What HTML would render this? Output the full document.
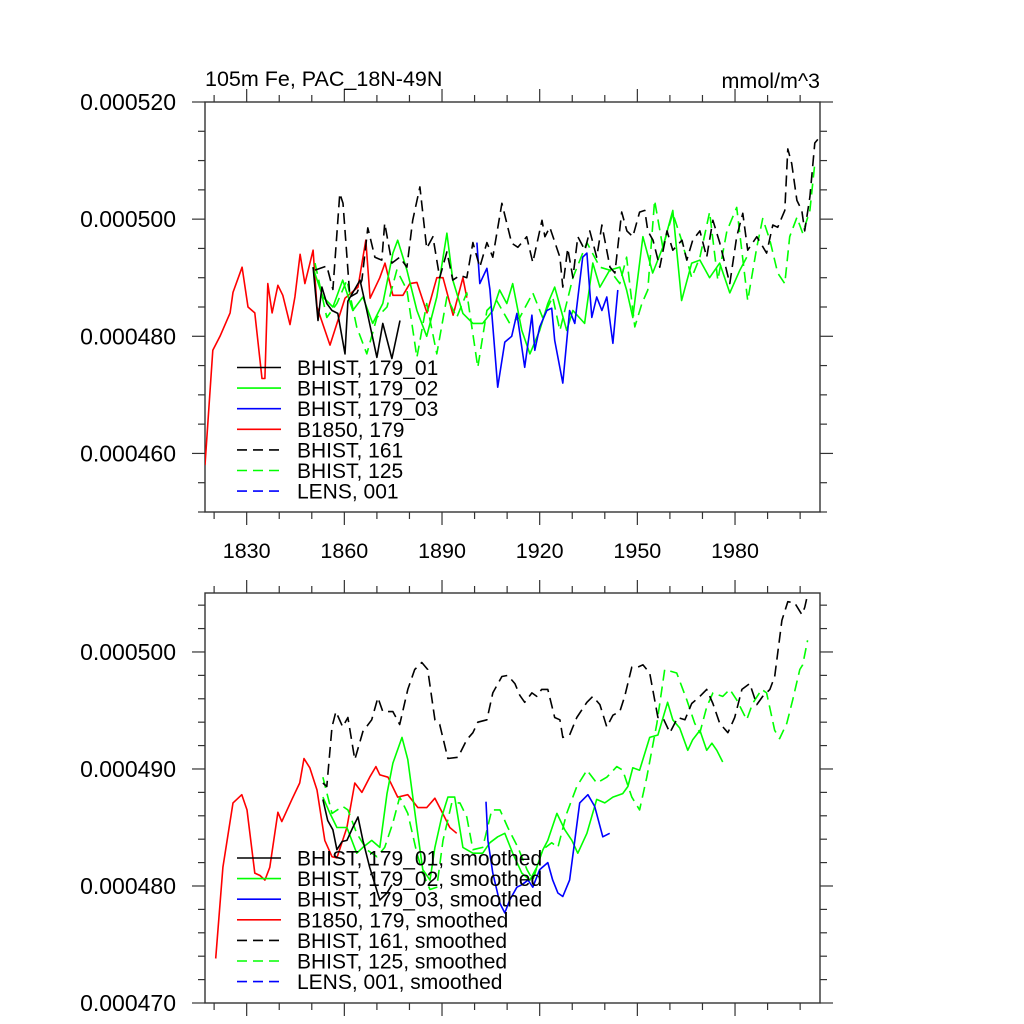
<!DOCTYPE html>
<html><head><meta charset="utf-8"><style>
html,body{margin:0;padding:0;background:#fff;}
svg{display:block;font-family:"Liberation Sans",sans-serif;}
</style></head><body>
<svg id="chart" width="1024" height="1024" viewBox="0 0 1024 1024">
<defs>
<clipPath id="clipTop"><rect x="205" y="102" width="615" height="410"/></clipPath>
<clipPath id="clipBot"><rect x="205" y="593" width="615" height="410"/></clipPath>
</defs>
<g id="root"></g>
</svg>
<script>
// ---- data (values in units of 1e-6 mmol/m^3) ----
const xTickYears = [1830, 1860, 1890, 1920, 1950, 1980];
const xTickLabels = ["1830", "1860", "1890", "1920", "1950", "1980"];
const topYTicks = [460, 480, 500, 520];
const topYLabels = ["0.000460", "0.000480", "0.000500", "0.000520"];
const botYTicks = [470, 480, 490, 500];
const botYLabels = ["0.000470", "0.000480", "0.000490", "0.000500"];

// top panel raw series
const redTopYears = [1817.2,1819.6,1821.8,1824.9,1825.8,1828.6,1830.4,1832.5,1834.7,1835.6,1836.5,1837.8,1839.6,1841.1,1843.3,1844.8,1846.4,1847.9,1850.4,1851.6,1855.6,1860.2,1864.2,1866.6,1867.9,1870.9,1872.5,1874.9,1878,1880.1,1882.3,1885.4,1888.4,1890.3,1893.4,1896.4,1897.6];
const redTopVals = [458,477.6,480,484,487.5,491.8,485,484,472.8,472.8,489,484,488.7,487,482,486.7,494,489,494.7,485,478.5,486.5,488.4,496.4,486.5,490,492.5,487,487,489,489.2,484,490,490,483.6,490,486.6];
const blackTopYears = [1850.4,1851.9,1853.1,1854.6,1856.2,1858,1860.2,1861.1,1864.8,1866.9,1870,1871.8,1874.6,1877.1];
const blackTopVals = [491.8,482.7,488.4,485.6,484.4,483.9,477,486,489.6,484.4,476.4,482.2,476.2,482.7];
const blackDashTopYears = [1851,1854.6,1856.5,1858.6,1859.6,1861.7,1863.9,1865.4,1867.2,1869.4,1871.5,1872.4,1874.6,1877,1879.2,1881,1883.2,1885.3,1887.2,1889.3,1891.5,1893.3,1895.5,1897.6,1899.5,1901.6,1903.8,1905.6,1908.4,1911.4,1913.3,1916,1917.9,1920.7,1921.6,1923.1,1926.2,1927.1,1928.6,1930.2,1931.7,1933.9,1935.4,1937.5,1939.1,1941.6,1943.1,1945.2,1946.8,1948.6,1950.7,1952.3,1953.2,1954.8,1956.9,1959.1,1960.9,1963.7,1965.2,1967,1969.2,1971.3,1973.2,1975.3,1978.4,1980.5,1982.4,1983.9,1986.7,1989.7,1991.6,1993.1,1995.3,1996.2,1997.4,1999,2000.5,2001.4,2003,2004.5,2006];
const blackDashTopVals = [491.3,492,488,504.4,502.7,486.7,487.4,489.6,498.5,493.5,493,499.3,492.5,493.5,491.8,499.8,505.5,495,497,490,494.4,489.6,490.4,490,496,491.8,496,493.5,502.7,495.9,495.2,497,492.6,499.8,497,498.6,493.5,488.4,495,490,497,494.7,498,493.5,499,491.8,490.8,501.2,498,497,501.2,501.5,498,496.4,491.8,498,494.7,496.4,493,496.4,498,493.5,499.8,496,489,497,501,494.7,497,494.2,499,498.6,501.5,512,509.5,503.2,501.5,498,503.8,513,514];
const greenTopYears = [1850.3,1853.4,1856.5,1859.5,1862.6,1865.7,1868.7,1871.8,1874.9,1876.4,1879.2,1882.3,1885.3,1888.4,1891.5,1893.3,1896.4,1899.5,1902.5,1905.6,1907.7,1909.9,1911.7,1914.5,1917,1920,1922.5,1924.6,1928.3,1930.2,1933.8,1936.3,1938.5,1941.5,1944.6,1946.7,1948.6,1951.7,1954.7,1957.8,1960.9,1963.6,1966.7,1969.2,1972.2,1975.3,1978.4,1981.5,1983.6];
const greenTopVals = [491.8,486.7,485,489.6,484.4,486.7,482.2,485.6,494.2,496.4,491.3,484.4,480,486.7,497.6,489.6,483.9,482.2,482.2,484.4,487.9,485.6,489,481,477,481,485.6,488.4,481,484.4,482.2,492.5,488.4,491.3,491.8,487.9,483.2,497,490.8,495.2,501.5,486.1,492.5,493,490,492.5,487.4,491.3,493.5];
const greenDashTopYears = [1851,1854.6,1857.7,1860.8,1863.8,1866.9,1870,1873.1,1876.1,1879.2,1882.3,1885.3,1888.4,1891.5,1894.5,1897.6,1901,1903.8,1906.8,1910.8,1913.9,1917.9,1920.9,1924,1926.2,1930.2,1934.5,1938.5,1941.5,1944.6,1946.7,1949.2,1951.4,1953.2,1955.3,1957.8,1960.9,1963.6,1966.7,1969.2,1972.2,1974.7,1977.5,1980.5,1983.9,1986.7,1988.5,1990.7,1993.1,1995.3,1996.8,1999,2000.8,2003,2004.5];
const greenDashTopVals = [492.5,483.2,485.6,489.6,481.6,477,483.2,485,491.3,487.9,476.4,485.6,477,486.7,483.2,487.4,474.7,484.4,486.1,482.2,483.2,487.4,483.2,486.7,481,490,496,491.8,491.3,489,493.5,481.6,485.6,487.9,503.2,495.2,501,496.4,490,493.5,501.2,489.6,498,502,486.1,495.2,500.1,496.4,490.8,489,497,500.3,497.6,501.5,509.5];
const blueTopYears = [1900.7,1901.6,1903.8,1904.7,1907.1,1909.3,1911.4,1913,1915.4,1917.6,1918.5,1920,1922.2,1923.7,1924.6,1927.1,1929.2,1930.8,1933.2,1934.5,1936,1937.5,1939.1,1940.6,1942.5,1944];
const blueTopVals = [496,489,491.6,488,471.3,479,480,483.9,474.7,483.6,477.6,481.6,484.4,484.8,479.3,472,484.4,482.2,493.5,494.2,483.2,486.7,484.4,486.7,478.8,487.9];

// bottom panel smoothed series
const redBotYears = [1820.5,1822.7,1825.8,1828.5,1830.1,1832.5,1834.1,1835.6,1837.1,1839.6,1840.8,1843.9,1846.3,1847.6,1849.4,1851.6,1854,1856.2,1857.7,1860.8,1863.2,1865.4,1867.8,1869.7,1870.9,1873.4,1876.4,1879.5,1882.6,1885.3,1887.8,1890.2,1892.4,1894.5];
const redBotVals = [473.8,481.6,487.1,487.8,486.5,481.1,480.9,480.5,481.6,486.3,485.5,487.4,488.8,490.9,490.1,488.2,483.9,482.5,482.4,485,488.8,488,489.3,490.2,489.5,489.3,487.6,487.8,486.7,486.7,487.5,486.2,485,484.5];
const blackBotYears = [1853.4,1854.9,1856.5,1857.7,1859.3,1860.8,1862.6,1864.2,1865.7,1867.8,1870.9,1873.1,1874.6];
const blackBotVals = [487.4,485.6,484.8,483.1,483.8,483.9,485,485.9,483.9,481.6,478.8,479.4,480.1];
const blackDashBotYears = [1853.4,1854.6,1856.2,1857.4,1859.5,1861.1,1863.2,1865.7,1868.4,1870.3,1871.8,1874.9,1877,1879.5,1881.6,1883.8,1885.6,1887.8,1889.3,1891.8,1894.9,1897.6,1899.5,1901,1903.8,1905.6,1908.4,1910.2,1912.4,1913.9,1915.4,1917.6,1919.1,1920.6,1922.5,1924.6,1926.2,1927.1,1929.2,1931.4,1934.5,1936.3,1938.5,1940.6,1942.5,1944.6,1946.1,1948.3,1950.1,1951.7,1953.8,1956.3,1957.8,1960,1962.4,1964.6,1966.7,1969.2,1971.3,1973.2,1975.3,1977.8,1979.9,1982.1,1984.5,1986.7,1988.5,1990.7,1992.2,1994.4,1996.2,1998.3,2000.5,2001.4,2002.3];
const blackDashBotVals = [488.8,488.5,493.6,494.9,493.6,494.4,490.8,493.2,494.2,496.1,494.9,494.9,493.8,496.8,498.5,499.1,498.5,494.2,493.8,490.9,491,492.5,493.1,494,494.2,496.5,497.9,498,497.3,496.3,495.7,496.5,496.2,496.8,496.8,494.4,494.2,492.7,492.9,494.4,495.7,496.2,495.5,493.6,494.6,494.9,496.2,498.7,498.7,498.9,498.2,494.4,494.4,493.1,494.4,494.2,495.6,496.2,496.8,495.6,493.9,493.1,494.4,496.8,497.3,495.5,496.2,496.8,497.9,502.7,504.3,504.2,503.2,503.8,504.9];
const greenBotYears = [1853.4,1855.6,1857.7,1860.8,1863.8,1865.7,1868.4,1870.9,1873.1,1874.9,1877.7,1879.5,1882.3,1884.1,1886.3,1887.8,1889.9,1891.8,1893.9,1896.4,1899.5,1902.5,1904.7,1907.1,1909.3,1911.7,1914.5,1917,1919.1,1921,1922.5,1925.3,1927.7,1929.9,1931.7,1934.5,1937.5,1940,1942.5,1945.5,1947.1,1948.6,1950.7,1953.8,1956.3,1959.3,1960.9,1963,1965.5,1967,1969.2,1971.3,1972.9,1974.4,1976.2];
const greenBotVals = [487.6,486.2,485,485,482.8,483.3,483.9,483.3,487.9,490.5,492.7,490.8,485,481.4,480.5,483.3,485.9,487.6,487.6,483.3,482.8,482.8,483.7,484.2,484.5,482.8,481.1,480.5,481.6,483.1,483.9,486.2,484.8,483.9,482.8,484.5,487.4,487.1,487.6,487.9,488.5,490.1,489.9,492.7,492.9,495.7,494.2,493.5,491.6,492.5,493.3,491.6,492.2,491.6,490.6];
const greenDashBotYears = [1853.4,1856.2,1859.5,1861.1,1863.8,1866.9,1870,1872.4,1874.9,1877,1879.5,1882.3,1884.1,1886.3,1888.4,1890.3,1893,1895.5,1897.6,1899.5,1902.5,1905.3,1907.8,1910.2,1913.3,1916.1,1917.9,1920.9,1923.7,1925.6,1928.3,1931.4,1934.5,1937.5,1940.6,1943.7,1945.5,1948.3,1950.7,1952.9,1956,1958.4,1962.1,1965.2,1967.6,1969.2,1971.3,1973.2,1976.2,1978.4,1980.5,1983.6,1985.4,1988.2,1989.7,1992.2,1993.7,1995.9,1997.7,1999.9,2000.8,2002.3];
const greenDashBotVals = [489.3,486.2,486.8,486.5,484.5,483.1,482.5,483.3,485.4,487.6,486.2,482.8,481.1,479.7,479.9,483.9,487.1,487.1,485.9,483.1,483.3,486.5,486.5,485,483.3,481.4,480.5,483.1,483.7,483.3,486.2,488.5,489.9,488.8,489.3,490.2,489.9,487.6,486.5,489.3,493.9,498.5,498.2,495.9,493.9,493.1,495.3,496.5,496.2,496.8,495.9,494.2,495.6,496.8,496.5,493.3,492.6,493.9,495.9,498.5,498.9,501];
const blueBotYears = [1903.5,1904.1,1905.6,1907.8,1909.3,1910.8,1913,1914.5,1916.4,1917.9,1920,1922.5,1924,1925.6,1927.1,1929.2,1930.8,1932.3,1934.8,1936.9,1939.4,1941.5];
const blueBotVals = [487.2,483.9,481.1,478.5,477.7,478.8,479.9,480.1,480.5,479.9,481.4,482,480.5,479.4,479.1,480.5,483.9,487.1,487.8,486.8,484.2,484.5];

const topLegendLabels = ["BHIST, 179_01","BHIST, 179_02","BHIST, 179_03","B1850, 179","BHIST, 161","BHIST, 125","LENS, 001"];
const botLegendLabels = ["BHIST, 179_01, smoothed","BHIST, 179_02, smoothed","BHIST, 179_03, smoothed","B1850, 179, smoothed","BHIST, 161, smoothed","BHIST, 125, smoothed","LENS, 001, smoothed"];

// ---- layout ----
const NS = "http://www.w3.org/2000/svg";
const root = document.getElementById("root");
const L = 205, R = 820;
const X0 = 1817.2, X1 = 2006.1;
function xScale(yr){ return L + (yr - X0) / (X1 - X0) * (R - L); }
const topP = {t:102, b:512, v0:450, v1:520};
const botP = {t:593, b:1003, v0:470, v1:505.04};
function yScaleFor(p){ return v => p.b - (v - p.v0) / (p.v1 - p.v0) * (p.b - p.t); }
const yTop = yScaleFor(topP), yBot = yScaleFor(botP);

function mk(tag, attrs, parent){
  const e = document.createElementNS(NS, tag);
  for (const k in attrs) e.setAttribute(k, attrs[k]);
  (parent || root).appendChild(e);
  return e;
}
function txt(s, attrs, parent){ const e = mk("text", attrs, parent); e.textContent = s; return e; }

const colors = {black:"#000", green:"#00ff00", blue:"#0000ff", red:"#ff0000"};
const DASH = "11,6";

function drawLine(years, vals, ys, color, dashed, clip, name){
  const n = Math.min(years.length, vals.length);
  let d = "";
  for (let i=0;i<n;i++) d += (i?"L":"M") + xScale(years[i]).toFixed(1) + "," + ys(vals[i]).toFixed(1);
  const p = mk("path", {d:d, fill:"none", stroke:color, "stroke-width":"1.6", "stroke-linejoin":"round", "clip-path":"url(#"+clip+")"});
  if (dashed) p.setAttribute("stroke-dasharray", DASH);
  
  
}

function drawFrame(p, ys, yTicks, yLabels, minorStep, showXLabels, prefix){
  const g = mk("g", {});
  
  
  mk("rect", {x:L, y:p.t, width:R-L, height:p.b-p.t, fill:"none", stroke:"#333", "stroke-width":"1.4"}, g);
  for (let v = p.v0; v <= p.v1 + 1e-6; v += minorStep){
    const y = ys(v);
    if (y < p.t - 0.5) continue;
    const major = yTicks.some(t => Math.abs(t - v) < 1e-6);
    const len = major ? 13 : 7;
    mk("line", {x1:L-len, x2:L, y1:y, y2:y, stroke:"#333", "stroke-width":"1.2"}, g);
    mk("line", {x1:R, x2:R+len, y1:y, y2:y, stroke:"#333", "stroke-width":"1.2"}, g);
  }
  yTicks.forEach((v,i) => {
    const t = txt(yLabels[i], {x:176, y:ys(v)+8, "text-anchor":"end", "font-size":"23", fill:"#000"}, g);
    
    
  });
  for (let yr = 1820; yr <= 2000; yr += 10){
    const x = xScale(yr);
    const major = xTickYears.includes(yr);
    const len = major ? 13 : 7;
    mk("line", {x1:x, x2:x, y1:p.t-len, y2:p.t, stroke:"#333", "stroke-width":"1.2"}, g);
    mk("line", {x1:x, x2:x, y1:p.b, y2:p.b+len, stroke:"#333", "stroke-width":"1.2"}, g);
  }
  if (showXLabels){
    xTickYears.forEach((yr,i) => {
      const t = txt(xTickLabels[i], {x:xScale(yr), y:558, "text-anchor":"middle", "font-size":"21.5", fill:"#000"}, g);
      
      
    });
  }
}

drawFrame(topP, yTop, topYTicks, topYLabels, 5, true, "top");
drawFrame(botP, yBot, botYTicks, botYLabels, 2, false, "bottom");

const t1 = txt("105m Fe, PAC_18N-49N", {x:205, y:86, "font-size":"21.5", fill:"#000"});


const t2 = txt("mmol/m^3", {x:820, y:88, "text-anchor":"end", "font-size":"21.5", fill:"#000"});



drawLine(redTopYears, redTopVals, yTop, colors.red, false, "clipTop", "b1850-179-line");
drawLine(greenDashTopYears, greenDashTopVals, yTop, colors.green, true, "clipTop", "bhist-125-line");
drawLine(greenTopYears, greenTopVals, yTop, colors.green, false, "clipTop", "bhist-179-02-line");
drawLine(blueTopYears, blueTopVals, yTop, colors.blue, false, "clipTop", "bhist-179-03-line");
drawLine(blackTopYears, blackTopVals, yTop, colors.black, false, "clipTop", "bhist-179-01-line");
drawLine(blackDashTopYears, blackDashTopVals, yTop, colors.black, true, "clipTop", "bhist-161-line");

drawLine(redBotYears, redBotVals, yBot, colors.red, false, "clipBot", "b1850-179-smoothed-line");
drawLine(greenDashBotYears, greenDashBotVals, yBot, colors.green, true, "clipBot", "bhist-125-smoothed-line");
drawLine(greenBotYears, greenBotVals, yBot, colors.green, false, "clipBot", "bhist-179-02-smoothed-line");
drawLine(blueBotYears, blueBotVals, yBot, colors.blue, false, "clipBot", "bhist-179-03-smoothed-line");
drawLine(blackBotYears, blackBotVals, yBot, colors.black, false, "clipBot", "bhist-179-01-smoothed-line");
drawLine(blackDashBotYears, blackDashBotVals, yBot, colors.black, true, "clipBot", "bhist-161-smoothed-line");

const legColors = [colors.black, colors.green, colors.blue, colors.red, colors.black, colors.green, colors.blue];
const legDash = [false,false,false,false,true,true,true];
function drawLegend(labels, y0, step, name){
  const g = mk("g", {});
  
  
  labels.forEach((lab,i) => {
    const y = y0 + i*step;
    const e = mk("g", {}, g);
    
    
    const ln = mk("line", {x1:237, x2:281, y1:y, y2:y, stroke:legColors[i], "stroke-width":"1.6"}, e);
    if (legDash[i]) ln.setAttribute("stroke-dasharray", "10,6");
    txt(lab, {x:297, y:y+7.5, "font-size":"21", fill:"#000"}, e);
  });
}
drawLegend(topLegendLabels, 367.5, 20.6, "top-legend");
drawLegend(botLegendLabels, 858, 20.6, "bottom-legend");
</script>
</body></html>
